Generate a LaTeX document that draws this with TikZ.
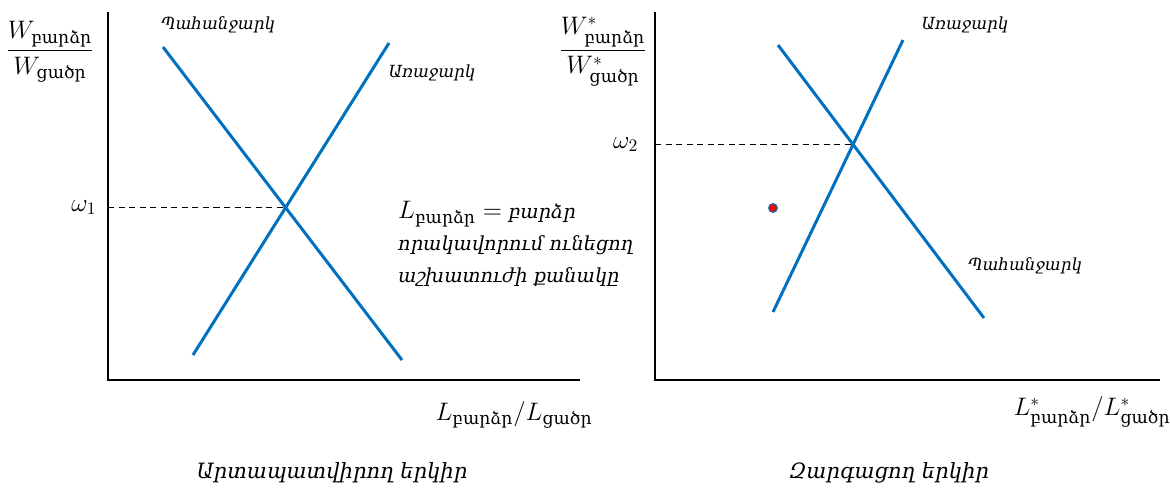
\documentclass[tikz,border=0pt]{standalone}
\usepackage{amsmath}
\usepackage{fontspec}
\newfontfamily\armfont{DejaVu Serif}
\usetikzlibrary{positioning}
\definecolor{curveblue}{RGB}{0,112,192}
\newcommand{\armsub}[1]{\text{\armfont #1}}

\begin{document}
\begin{tikzpicture}[x=0.02cm, y=-0.02cm,
    axis/.style={line width=1.1pt},
    curve/.style={curveblue, line width=1.7pt},
    guide/.style={dash pattern=on 3.5pt off 2.5pt, line width=0.7pt},
    lbl/.style={font=\armfont\itshape\fontsize{9.5}{12}\selectfont},
    caption/.style={font=\armfont\itshape\fontsize{12}{15}\selectfont},
    mlbl/.style={font=\fontsize{14}{17}\selectfont}]
  \useasboundingbox (0,0) rectangle (1170,494);
  % left panel
  \coordinate (Ltop) at (108,12);
  \coordinate (Lo) at (108,380);
  \coordinate (Lend) at (580,380);
  \draw[axis] (Ltop) -- (Lo) -- (Lend);
  \coordinate (DLa) at (163,47);
  \coordinate (DLb) at (402,360);
  \coordinate (SLa) at (193,355);
  \coordinate (SLb) at (389,43);
  \draw[curve] (DLa) -- (DLb);
  \draw[curve] (SLa) -- (SLb);
  \coordinate (EL) at (intersection of DLa--DLb and SLa--SLb);
  \coordinate (WL) at (Lo |- EL);
  \draw[guide] (WL) -- (EL);
  \node[mlbl, left=3pt of WL] (omegaL) {$\omega_1$};
  \node[mlbl] (yaxL) at (50,52) {$\dfrac{W_{\armsub{բարձր}}}{W_{\armsub{ցածր}}}$};
  \node[mlbl] (xaxL) at (514,415) {$L_{\armsub{բարձր}}/L_{\armsub{ցածր}}$};
  \node[lbl] (demL) at (218,25) {Պահանջարկ};
  \node[lbl] (supL) at (432,73) {Առաջարկ};
  \node[lbl, anchor=west, align=left, font=\armfont\itshape\fontsize{11}{16}\selectfont] (noteL) at (392,244)
    {{\upshape\fontsize{14}{16}\selectfont $L_{\armsub{բարձր}} =$} բարձր\\[0.2em]
     որակավորում ունեցող\\[0.2em]
     աշխատուժի քանակը};
  \node[caption] (capL) at (332,473) {Արտապատվիրող երկիր};
  % right panel
  \coordinate (Rtop) at (655,12);
  \coordinate (Ro) at (655,380);
  \coordinate (Rend) at (1160,380);
  \draw[axis] (Rtop) -- (Ro) -- (Rend);
  \coordinate (SRa) at (773,312);
  \coordinate (SRb) at (903,40);
  \coordinate (DRa) at (778,45);
  \coordinate (DRb) at (984,318);
  \draw[curve] (SRa) -- (SRb);
  \draw[curve] (DRa) -- (DRb);
  \coordinate (ER) at (intersection of DRa--DRb and SRa--SRb);
  \coordinate (WR) at (Ro |- ER);
  \draw[guide] (WR) -- (ER);
  \node[mlbl, left=6pt of WR] (omegaR) {$\omega_2$};
  \node[mlbl] (yaxR) at (603,52) {$\dfrac{W^*_{\armsub{բարձր}}}{W^*_{\armsub{ցածր}}}$};
  \node[mlbl] (xaxR) at (1092,412) {$L^*_{\armsub{բարձր}}/L^*_{\armsub{ցածր}}$};
  \node[lbl] (supR) at (965,25) {Առաջարկ};
  \node[lbl] (demR) at (1025,266) {Պահանջարկ};
  \node[circle, fill=red, draw=curveblue, line width=0.6pt, inner sep=0pt, minimum size=5pt] (dotR) at (773,208) {};
  \node[caption] (capR) at (889,473) {Զարգացող երկիր};
\end{tikzpicture}
\end{document}
